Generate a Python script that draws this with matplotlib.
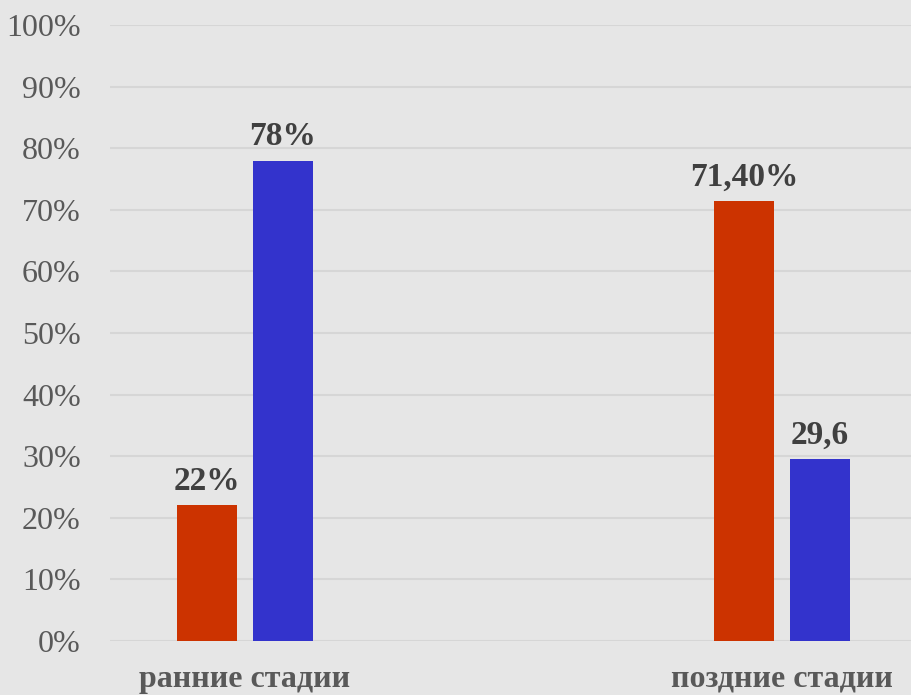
import matplotlib.pyplot as plt
import numpy as np

# data
categories = ['ранние стадии', 'поздние стадии']
red_values = [0.22, 0.714]
blue_values = [0.78, 0.296]
red_labels = ['22%', '71,40%']
blue_labels = ['78%', '29,6']
y_ticks = np.arange(0, 1.01, 0.1)

plt.rcParams['font.family'] = ['Liberation Serif', 'DejaVu Serif']

fig = plt.figure(figsize=(9.12, 6.95), dpi=100, facecolor='#e6e6e6')
ax = fig.add_axes([0.1206, 0.0777, 0.8794, 0.8863], facecolor='#e6e6e6')

x = np.arange(len(categories))
w = 0.1117
off = 0.0708
red_bars = ax.bar(x - off, red_values, w, color='#cc3300', zorder=3)
blue_bars = ax.bar(x + off, blue_values, w, color='#3333cc', zorder=3)

# value labels above bars
for bars, labels in [(red_bars, red_labels), (blue_bars, blue_labels)]:
    for b, t in zip(bars, labels):
        ax.annotate(t, (b.get_x() + b.get_width() / 2, b.get_height()),
                    xytext=(0, 6), textcoords='offset points',
                    ha='center', va='bottom', fontsize=24,
                    fontweight='bold', color='#404040')

ax.set_xlim(-0.2514, 1.242)
ax.set_ylim(0, 1)
ax.set_yticks(y_ticks)
ax.set_yticklabels([f'{int(round(v * 100))}%' for v in y_ticks])
ax.set_xticks(x)
ax.set_xticklabels(categories, fontweight='bold')
ax.tick_params(axis='y', length=0, pad=21, labelsize=23, labelcolor='#595959')
ax.tick_params(axis='x', length=0, pad=17, labelsize=23, labelcolor='#595959')
ax.grid(axis='y', color='#d6d6d6', linewidth=1.5, zorder=0)
for s in ax.spines.values():
    s.set_visible(False)

fig.savefig('out.png', dpi=100, facecolor='#e6e6e6')
